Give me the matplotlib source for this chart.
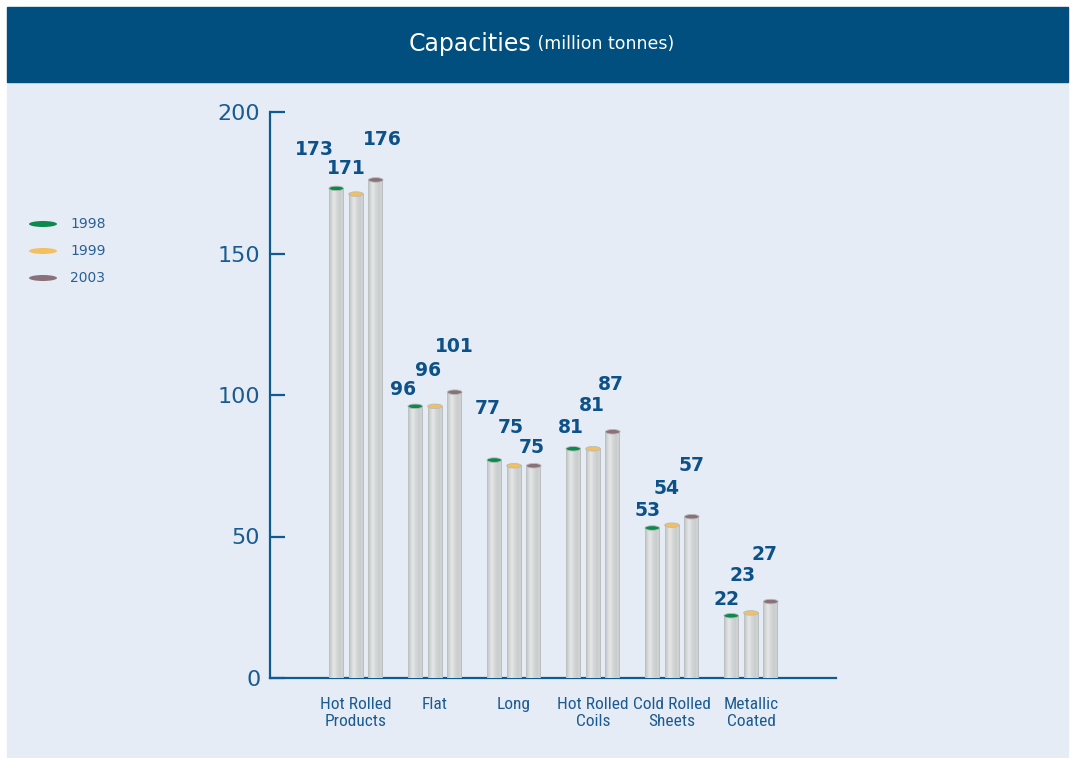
import numpy as np
import matplotlib
matplotlib.use("Agg")
import matplotlib.pyplot as plt
from matplotlib import font_manager
from matplotlib.patches import Ellipse, Rectangle
from matplotlib.colors import to_rgb

# capacity data, million tonnes
categories = ["Hot Rolled\nProducts", "Flat", "Long", "Hot Rolled\nCoils",
              "Cold Rolled\nSheets", "Metallic\nCoated"]
years = ["1998", "1999", "2003"]
cap_1998 = [173, 96, 77, 81, 53, 22]
cap_1999 = [171, 96, 75, 81, 54, 23]
cap_2003 = [176, 101, 75, 87, 57, 27]
yticks = [0, 50, 100, 150, 200]

# hand placed label offsets (pixels from bar top), one row per group
label_dx = [[-22, -10, 7], [-12, -7, 0], [-7, -3, -2],
            [-2, -1, -2], [-5, -5, 0], [-5, -8, -6]]
label_dy = [[39, 26, 40], [17, 36, 46], [52, 38, 18],
            [21, 43, 47], [18, 37, 51], [16, 37, 47]]

top_colors = ["#0b8a4c", "#f4bf5e", "#8a7078"]
navy = "#004f7e"
text_blue = "#0d5189"
bg = "#e6ecf6"


def narrow_font():
    # first condensed face that is actually installed
    for name in ["Liberation Sans Narrow", "Roboto Condensed", "DejaVu Sans Condensed",
                 "Open Sans Condensed", "Noto Sans Condensed"]:
        try:
            font_manager.findfont(font_manager.FontProperties(family=name),
                                  fallback_to_default=False)
            return name, 1.0
        except Exception:
            pass
    return "DejaVu Sans", 0.85


cond, cond_scale = narrow_font()

W, H = 1070, 758
fig = plt.figure(figsize=(W / 100, H / 100), dpi=100, facecolor="white")

# page background and header band
fig.patches.append(Rectangle((7 / W, 1 / H), 1 - 9 / W, (676 - 1) / H,
                             transform=fig.transFigure, color=bg, zorder=-5))
fig.patches.append(Rectangle((7 / W, (H - 82) / H), 1 - 9 / W, 75 / H,
                             transform=fig.transFigure, color=navy, zorder=-4))
fig.text(0.497, (H - 44) / H, "Capacities", color="white", fontsize=17,
         ha="right", va="center", family="DejaVu Sans")
fig.text(0.497, (H - 44) / H, " (million tonnes)", color="white",
         fontsize=12.5, ha="left", va="center", family="DejaVu Sans")

ax = fig.add_axes([270 / W, 80 / H, 566 / W, 566 / H])
ax.set_facecolor("none")

step = 0.25
width = 0.185
x = np.arange(len(categories))
series = [cap_1998, cap_1999, cap_2003]

# cylinder shading across the bar width
stops = [(0.0, "#b9bdbd"), (0.12, "#cfd2d2"), (0.32, "#e6e8e8"),
         (0.55, "#d3d6d6"), (0.78, "#c9cccc"), (0.9, "#d6d8d8"), (1.0, "#b3b7b7")]
pos = np.linspace(0, 1, 40)
shade = np.array([[np.interp(p, [s[0] for s in stops],
                             [to_rgb(s[1])[c] for s in stops]) for c in range(3)]
                  for p in pos])[None, :, :]

cap_h = 1.6

for k, vals in enumerate(series):
    bars = ax.bar(x + (k - 1) * step, vals, width, color="#cfd2d2", zorder=2)
    for i, b in enumerate(bars):
        x0, w, h = b.get_x(), b.get_width(), b.get_height()
        ax.imshow(shade, extent=[x0, x0 + w, 0, h], aspect="auto",
                  interpolation="bilinear", zorder=3)
        ax.add_patch(Ellipse((x0 + w / 2, h), w, cap_h, facecolor=top_colors[k],
                             edgecolor="#b8bbbb", lw=0.6, zorder=4))
        ax.annotate(str(vals[i]), (x0 + w / 2, h),
                    xytext=(label_dx[i][k], label_dy[i][k]),
                    textcoords="offset pixels", ha="center", va="center",
                    fontsize=13.5, fontweight="bold", color=text_blue, zorder=5)

ax.set_xlim(-1.089, 6.076)
ax.set_ylim(0, 200)

for side in ["top", "right"]:
    ax.spines[side].set_visible(False)
for side in ["left", "bottom"]:
    ax.spines[side].set_color("#0f5a8e")
    ax.spines[side].set_linewidth(1.6)

ax.set_yticks(yticks)
ax.set_yticklabels([str(t) for t in yticks], fontsize=16, color="#1a5b91")
ax.tick_params(axis="y", direction="in", length=11, width=1.6,
               color="#0f5a8e", pad=7)
ax.set_xticks(x)
ax.set_xticklabels(categories, fontsize=12.5 * cond_scale, color="#1c5b91",
                   family=cond, linespacing=1.15)
ax.tick_params(axis="x", length=0, pad=14)

# legend with coloured ellipses
for k, yr in enumerate(years):
    yy = (H - 224 - 27 * k) / H
    fig.patches.append(Ellipse((43 / W, yy), 28 / W, 6 / H, facecolor=top_colors[k],
                               transform=fig.transFigure, zorder=3))
    fig.text(70 / W, yy, yr, fontsize=10, color="#2a5f95", va="center")

fig.savefig("out.png", dpi=100, facecolor="white")
